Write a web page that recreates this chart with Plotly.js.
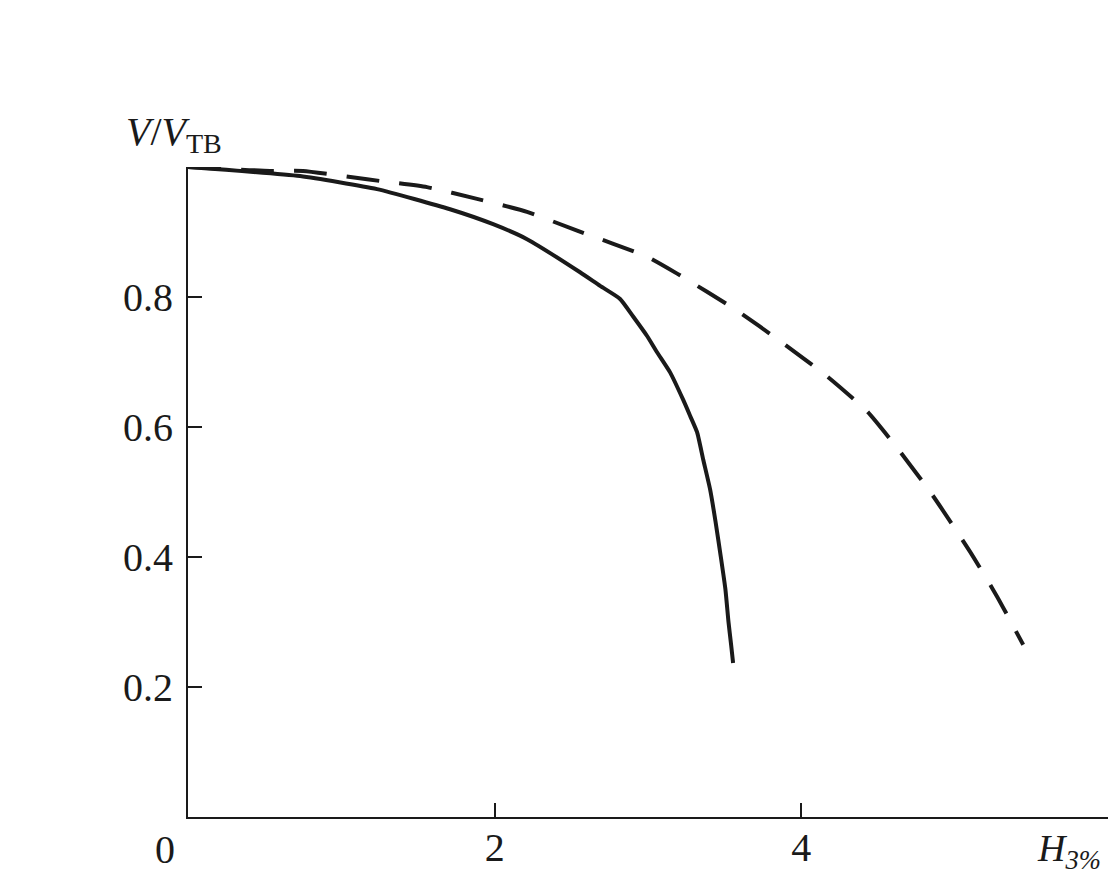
<!DOCTYPE html>
<html>
<head>
<meta charset="utf-8">
<script src="https://cdn.plot.ly/plotly-3.0.1.min.js"></script>
<style>html,body{margin:0;padding:0;background:#fff;}#chart{width:1110px;height:883px;}</style>
</head>
<body>
<div id="chart"></div>
<script>
// Solid curve
const solidX = [0, 0.731, 1.233, 1.709, 1.99, 2.211, 2.557, 2.688, 2.818, 2.903, 2.994, 3.059, 3.144, 3.229, 3.275, 3.32, 3.36, 3.405, 3.44, 3.475, 3.505, 3.525, 3.542, 3.555];
const solidY = [1.0, 0.986, 0.966, 0.935, 0.912, 0.889, 0.838, 0.817, 0.797, 0.770, 0.740, 0.715, 0.684, 0.642, 0.617, 0.592, 0.550, 0.504, 0.455, 0.400, 0.350, 0.300, 0.265, 0.237];
// Dashed curve
const dashX = [0, 0.535, 0.75, 1.168, 1.559, 1.885, 2.211, 2.538, 2.994, 3.19, 3.581, 3.862, 4.168, 4.429, 4.644, 4.853, 5.101, 5.277, 5.447];
const dashY = [1.0, 0.994, 0.994, 0.981, 0.969, 0.951, 0.931, 0.902, 0.862, 0.836, 0.779, 0.732, 0.678, 0.624, 0.562, 0.496, 0.408, 0.339, 0.265];
// Ticks
const xTickVals = [2, 4, 6];
const xTickText = ["2", "4", ""];
const yTickVals = [0.2, 0.4, 0.6, 0.8];
const yTickText = ["0.2", "0.4", "0.6", "0.8"];

const ink = '#1a1a1a';
const fontFam = 'Liberation Serif, Times New Roman, serif';

const traces = [
  {x: solidX, y: solidY, mode: 'lines', line: {color: ink, width: 4, shape: 'spline', smoothing: 0.5}, hoverinfo: 'skip'},
  {x: dashX, y: dashY, mode: 'lines', line: {color: ink, width: 4, dash: '33px,20px', shape: 'spline', smoothing: 0.5}, hoverinfo: 'skip'}
];

const layout = {
  width: 1110, height: 883,
  margin: {l: 188, r: 2, t: 167, b: 66},
  paper_bgcolor: '#fff', plot_bgcolor: '#fff',
  showlegend: false,
  font: {family: fontFam, color: ink, size: 39},
  xaxis: {
    range: [0, 6], showgrid: false, zeroline: false,
    showline: true, linecolor: ink, linewidth: 2,
    ticks: 'inside', ticklen: 14, tickwidth: 2, tickcolor: ink,
    tickmode: 'array', tickvals: xTickVals, ticktext: xTickText,
    tickfont: {family: fontFam, size: 40, color: ink},
    ticklabelstandoff: -6
  },
  yaxis: {
    range: [0, 1.0], showgrid: false, zeroline: false,
    showline: true, linecolor: ink, linewidth: 2,
    ticks: 'inside', ticklen: 14, tickwidth: 2, tickcolor: ink,
    tickmode: 'array', tickvals: yTickVals, ticktext: yTickText,
    tickfont: {family: fontFam, size: 40, color: ink},
    ticklabelstandoff: 5
  },
  annotations: [
    {xref: 'paper', yref: 'paper', x: 0, y: 0, xshift: -23, yshift: -8,
     xanchor: 'center', yanchor: 'top', showarrow: false,
     text: '0', font: {family: fontFam, size: 40, color: ink}},
    {xref: 'paper', yref: 'paper', x: 1, y: 0, xshift: -5, yshift: -8,
     xanchor: 'right', yanchor: 'top', showarrow: false,
     text: '<i>H</i><sub><i>3%</i></sub>', font: {family: fontFam, size: 38, color: ink}},
    {xref: 'paper', yref: 'paper', x: 0, y: 1, xshift: -64, yshift: 6,
     xanchor: 'left', yanchor: 'bottom', showarrow: false,
     text: '<i>V</i>/<i>V</i><sub>TB</sub>', font: {family: fontFam, size: 40, color: ink}}
  ]
};

Plotly.newPlot('chart', traces, layout, {staticPlot: true, displayModeBar: false});
</script>
</body>
</html>
